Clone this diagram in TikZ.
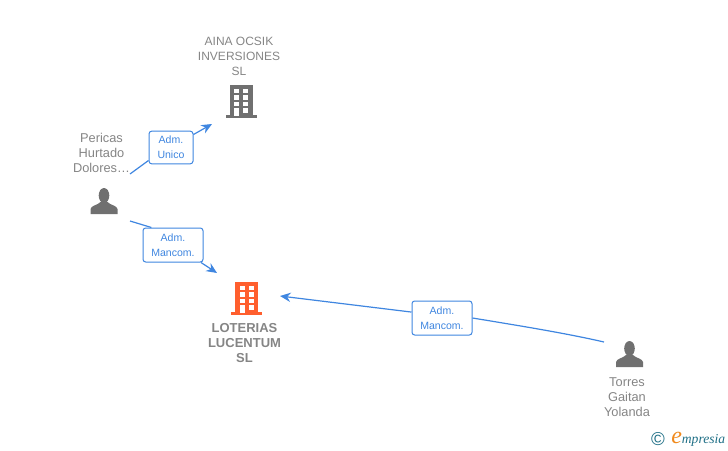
\documentclass[tikz,border=0pt]{standalone}
\usepackage{fontspec}
\setmainfont{Liberation Sans}
\newfontfamily\logofont{Liberation Serif}
\usetikzlibrary{arrows.meta}
\definecolor{linkblue}{HTML}{3F86E0}
\definecolor{labelgray}{HTML}{858585}
\definecolor{icongray}{HTML}{707070}
\definecolor{iconorange}{HTML}{FF5F2E}
\definecolor{logoteal}{HTML}{1F6F86}
\definecolor{logoorange}{HTML}{F08A1D}
\tikzset{
  namelabel/.style={text=labelgray,align=center,inner sep=0pt,font=\fontsize{9}{11.25}\selectfont},
  personlabel/.style={namelabel,font=\fontsize{9.6}{11.25}\selectfont},
  mainlabel/.style={namelabel,font=\fontsize{9.75}{11.25}\selectfont\bfseries},
  rolebox/.style={draw=linkblue,fill=white,rounded corners=2pt,line width=0.75pt,text=linkblue,
    align=center,inner sep=0pt,font=\fontsize{7.9}{11.25}\selectfont},
  linkline/.style={draw=linkblue,line width=0.9pt},
  linktip/.style={linkline,-{Stealth[length=8pt,width=7pt]}},
  pics/building/.style={code={
    \fill[#1] (-11.5,-16.5) rectangle (11.5,14);
    \fill[#1] (-15.5,13.5) rectangle (15.5,16.5);
    \foreach \yy in {-13,-6.5,0}
      \foreach \xx in {-7,2}
        \fill[white] (\xx,\yy) rectangle (\xx+5,\yy+4.5);
    \fill[white] (-7,6.5) rectangle (-2,14);
    \fill[white] (2,6.5) rectangle (7,11);
  }},
  pics/person/.style={code={
    \fill[icongray] (0,-5.5) ellipse (5.3 and 7.5);
    \fill[icongray] (-13.5,13) -- (-13.5,8) .. controls (-13,4.5) and (-6,4) .. (-3.5,1)
      -- (3.5,1) .. controls (6,4) and (13,4.5) .. (13.5,8) -- (13.5,13) -- cycle;
  }},
}
\begin{document}
\begin{tikzpicture}[x=0.75pt,y=-0.75pt]
  \useasboundingbox (0,0) rectangle (728,450);

  % Companies
  \pic at (241,101.5) {building=icongray};
  \pic at (246.5,298.5) {building=iconorange};
  \node[namelabel] (aina) at (239,56.5) {AINA OCSIK\\INVERSIONES\\SL};
  \node[mainlabel] (loterias) at (244.5,343) {LOTERIAS\\LUCENTUM\\SL};

  % People
  \pic at (104,201) {person};
  \pic at (629.5,354) {person};
  \node[personlabel] (pericas) at (101.5,153) {Pericas\\Hurtado\\Dolores\dots};
  \node[personlabel] (torres) at (627,397) {Torres\\Gaitan\\Yolanda};

  % Free ends of the links
  \coordinate (pericasA) at (130,174);
  \coordinate (ainaIn) at (212,124);
  \coordinate (pericasB) at (130,221);
  \coordinate (loteriasA) at (217,273);
  \coordinate (torresOut) at (604,342);
  \coordinate (loteriasB) at (280,296);

  % Role labels
  \node[rolebox,minimum width=33pt,minimum height=24.5pt] (unico) at (171,147.5) {Adm.\\Unico};
  \node[rolebox,minimum width=45pt,minimum height=25.5pt] (mancomA) at (173,245) {Adm.\\Mancom.};
  \node[rolebox,minimum width=45pt,minimum height=25.5pt] (mancomB) at (442,318) {Adm.\\Mancom.};

  % Links
  \draw[linkline] (pericasA) -- (unico.210);
  \draw[linktip] (unico.30) -- (ainaIn);
  \draw[linkline] (pericasB) -- (mancomA.141);
  \draw[linktip] (mancomA.328) -- (loteriasA);
  \draw[linkline] (torresOut) .. controls (565,333) and (515,325) .. (mancomB.east);
  \draw[linktip] (mancomB.169) -- (loteriasB);

  % Logo
  \node[inner sep=0pt,text=logoteal,font=\fontsize{14}{14}\selectfont] (copyr) at (658,439) {\textcopyright};
  \node[inner sep=0pt,anchor=base west,text=logoteal,font=\logofont\itshape\fontsize{10.2}{12}\selectfont] (logo) at (671,443.5)
    {{\color{logoorange}\fontsize{18}{12}\selectfont e}mpresia};
\end{tikzpicture}
\end{document}
